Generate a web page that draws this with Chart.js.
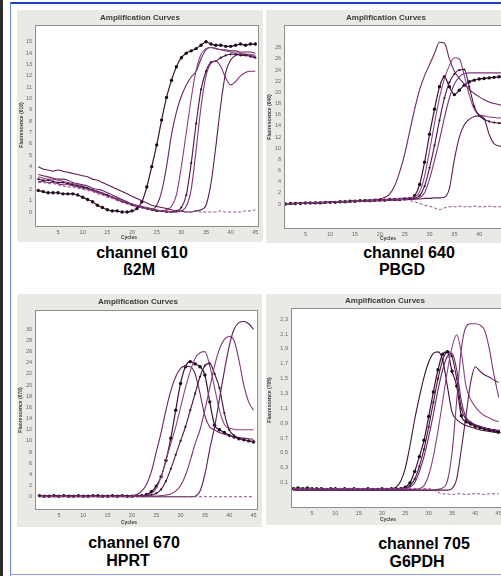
<!DOCTYPE html>
<html><head><meta charset="utf-8">
<script src="https://cdn.jsdelivr.net/npm/chart.js@4/dist/chart.umd.min.js"></script>
<style>
html,body{margin:0;padding:0;background:#fff;width:501px;height:576px;overflow:hidden;position:relative;font-family:"Liberation Sans",Arial,sans-serif}
.panel{position:absolute;background:#ebe9e5;overflow:hidden}
.panel canvas{display:block}
.cap{position:absolute;font-weight:bold;font-size:16px;color:#000;transform:translate(-50%,-50%);white-space:nowrap;line-height:1}
</style></head><body>
<div style="position:absolute;left:0;top:0;width:3px;height:576px;background:#2a2a2a"></div>
<div style="position:absolute;left:10px;top:2px;width:491px;height:2px;background:#1f3fcf"></div>
<div style="position:absolute;left:10px;top:2px;width:1px;height:574px;background:#6f88f0"></div>
<div style="position:absolute;left:10px;top:574px;width:491px;height:1px;background:#8fa0ef"></div>

<div class="panel" style="left:17px;top:10px;width:246px;height:232px"><canvas id="c610" width="246" height="232"></canvas></div>
<div class="panel" style="left:266px;top:10px;width:246px;height:233px"><canvas id="c640" width="246" height="233"></canvas></div>
<div class="panel" style="left:17px;top:294px;width:245px;height:233px"><canvas id="c670" width="245" height="233"></canvas></div>
<div class="panel" style="left:266px;top:294px;width:246px;height:231px"><canvas id="c705" width="246" height="231"></canvas></div>

<div class="cap" style="left:142px;top:253px">channel 610</div>
<div class="cap" style="left:139px;top:270px">ß2M</div>
<div class="cap" style="left:409px;top:253px">channel 640</div>
<div class="cap" style="left:402px;top:270px">PBGD</div>
<div class="cap" style="left:134px;top:543px">channel 670</div>
<div class="cap" style="left:128px;top:561px">HPRT</div>
<div class="cap" style="left:424px;top:544px">channel 705</div>
<div class="cap" style="left:417px;top:562px">G6PDH</div>

<script>
// ---------- DATA ----------
const cycles = [1,2,3,4,5,6,7,8,9,10,11,12,13,14,15,16,17,18,19,20,21,22,23,24,25,26,27,28,29,30,31,32,33,34,35,36,37,38,39,40,41,42,43,44,45];
const xTicks = [5,10,15,20,25,30,35,40,45];

// channel 610 (ß2M)
const ticks610 = [0,1,2,3,4,5,6,7,8,9,10,11,12,13,14,15];
const ch610_dots = [1.9,1.8,1.7,1.7,1.7,1.6,1.6,1.6,1.5,1.3,1.1,0.9,0.6,0.4,0.2,0.1,0.1,0.0,0.0,0.1,0.3,0.9,2.2,4.0,5.9,8.1,10.1,11.6,12.8,13.6,14.0,14.2,14.4,14.7,15.0,14.8,14.7,14.7,14.6,14.6,14.7,14.8,14.7,14.8,14.8];
const ch610_b = [3.3,3.2,3.1,3.0,2.9,2.9,2.8,2.6,2.5,2.4,2.3,2.1,2.0,1.9,1.7,1.5,1.3,1.1,0.9,0.7,0.5,0.4,0.3,0.2,0.6,1.8,4.0,6.8,8.8,10.2,11.2,11.9,12.4,13.5,14.3,14.5,14.4,14.3,14.3,14.2,14.2,14.1,14.1,14.1,14.0];
const ch610_c = [3.1,3.0,2.9,2.9,2.8,2.7,2.6,2.5,2.4,2.3,2.1,2.0,1.8,1.7,1.5,1.3,1.2,1.0,0.8,0.7,0.5,0.4,0.3,0.2,0.1,0.1,0.2,0.5,1.5,4.0,7.0,10.0,12.5,13.9,14.4,14.5,14.4,14.3,14.2,14.1,14.0,14.0,13.9,13.9,13.8];
const ch610_d = [2.9,2.8,2.8,2.7,2.6,2.6,2.5,2.4,2.3,2.2,2.1,1.9,1.8,1.6,1.5,1.3,1.1,0.9,0.8,0.6,0.5,0.4,0.3,0.2,0.1,0.1,0.0,0.0,0.1,0.4,1.5,4.3,7.8,10.8,12.4,13.2,13.3,13.6,13.8,13.9,13.9,13.8,13.8,13.7,13.6];
const ch610_e = [2.7,2.7,2.6,2.6,2.5,2.4,2.4,2.3,2.2,2.1,2.0,1.9,1.7,1.6,1.4,1.3,1.1,1.0,0.8,0.7,0.6,0.5,0.4,0.3,0.2,0.1,0.1,0.0,0.0,0.1,0.5,2.0,5.5,9.3,12.0,13.1,13.3,12.8,11.8,11.2,11.5,12.0,12.3,12.4,12.4];
const ch610_f = [4.0,3.8,3.7,3.6,3.7,3.6,3.5,3.4,3.3,3.2,3.1,2.9,2.8,2.6,2.4,2.2,2.0,1.8,1.6,1.4,1.2,1.0,0.8,0.6,0.5,0.4,0.3,0.2,0.1,0.1,0.0,0.0,0.1,0.2,0.6,2.5,5.8,9.5,12.3,13.4,13.8,13.9,13.9,13.8,13.7];
const ch610_neg = [2.6,2.6,2.5,2.5,2.4,2.3,2.2,2.2,2.1,2.0,1.9,1.8,1.6,1.5,1.3,1.2,1.0,0.9,0.7,0.6,0.5,0.4,0.3,0.2,0.2,0.1,0.1,0.0,0.0,0.1,0.0,0.0,0.1,0.0,0.0,0.0,0.0,0.1,0.0,0.0,0.0,0.0,0.1,0.1,0.2];

// channel 640 (PBGD)
const ticks640 = [0,2,4,6,8,10,12,14,16,18,20,22,24,26,28];
const ch640_dots = [0.0,0.1,0.1,0.1,0.2,0.2,0.2,0.2,0.3,0.3,0.3,0.4,0.4,0.5,0.5,0.6,0.6,0.6,0.7,0.7,0.7,0.8,0.8,0.8,0.9,1.0,1.5,3.5,7.5,12.5,17.0,21.0,22.8,21.0,19.6,20.4,21.3,21.9,22.2,22.4,22.5,22.6,22.7,22.8,22.9];
const ch640_p = [0.0,0.1,0.1,0.2,0.2,0.2,0.3,0.3,0.3,0.4,0.4,0.5,0.5,0.5,0.6,0.6,0.7,0.7,0.8,0.9,1.2,1.8,3.3,5.8,9.0,13.0,17.0,20.5,23.0,25.0,27.0,29.0,28.8,26.0,23.8,22.5,21.5,20.5,19.8,19.2,18.7,18.3,18.0,17.8,17.6];
const ch640_q = [0.0,0.1,0.1,0.1,0.2,0.2,0.2,0.3,0.3,0.3,0.4,0.4,0.5,0.5,0.5,0.6,0.6,0.7,0.7,0.8,0.8,0.9,0.9,1.0,1.0,1.1,1.3,2.2,5.0,9.5,14.5,19.0,22.5,24.8,26.2,26.0,23.0,19.5,17.0,16.0,15.8,15.6,15.5,15.4,15.4];
const ch640_r = [0.0,0.0,0.1,0.1,0.1,0.2,0.2,0.2,0.3,0.3,0.3,0.4,0.4,0.4,0.5,0.5,0.6,0.6,0.6,0.7,0.7,0.8,0.8,0.8,0.9,0.9,1.0,1.5,3.2,6.5,10.5,15.0,19.0,21.8,23.3,24.0,24.1,21.0,17.5,15.8,15.2,14.8,14.6,14.5,14.4];
const ch640_s = [0.0,0.0,0.1,0.1,0.1,0.2,0.2,0.2,0.3,0.3,0.3,0.4,0.4,0.4,0.5,0.5,0.5,0.6,0.6,0.6,0.7,0.7,0.8,0.8,0.8,0.9,0.9,1.1,2.0,4.5,7.8,11.5,15.5,19.0,21.5,22.8,23.4,23.5,23.5,23.5,23.5,23.5,23.5,23.5,23.5];
const ch640_t = [0.0,0.0,0.1,0.1,0.1,0.1,0.2,0.2,0.2,0.3,0.3,0.3,0.4,0.4,0.4,0.5,0.5,0.5,0.6,0.6,0.6,0.7,0.7,0.7,0.8,0.8,0.9,0.9,1.0,1.0,1.1,1.1,1.2,2.8,8.0,12.0,14.2,15.2,15.7,15.8,15.3,12.5,10.8,10.4,10.3];
const ch640_neg = [0.0,0.0,0.1,0.1,0.1,0.2,0.2,0.2,0.3,0.3,0.3,0.4,0.4,0.4,0.5,0.5,0.5,0.6,0.6,0.6,0.7,0.7,0.7,0.8,0.8,0.6,0.4,0.1,-0.2,-0.4,-0.7,-1.0,-0.7,-0.5,-0.5,-0.4,-0.5,-0.5,-0.4,-0.5,-0.5,-0.4,-0.5,-0.5,-0.5];

// channel 670 (HPRT)
const ticks670 = [0,2,4,6,8,10,12,14,16,18,20,22,24,26,28,30];
const ch670_dots = [0.2,0.1,0.1,0.2,0.1,0.2,0.1,0.1,0.2,0.1,0.1,0.2,0.2,0.1,0.1,0.2,0.1,0.2,0.1,0.1,0.2,0.2,0.4,0.9,1.9,3.6,6.5,10.5,15.5,20.3,23.3,24.2,23.8,23.3,21.8,17.0,12.8,12.0,11.5,11.0,10.7,10.4,10.2,10.0,9.8];
const ch670_a = [0.1,0.1,0.2,0.1,0.1,0.1,0.2,0.1,0.1,0.2,0.1,0.1,0.2,0.1,0.2,0.1,0.1,0.2,0.2,0.2,0.4,1.0,2.2,4.5,8.0,11.5,15.5,19.0,21.5,23.0,23.4,23.3,22.0,18.5,14.5,12.5,12.0,11.5,11.2,11.0,10.8,10.6,10.5,10.4,10.3];
const ch670_b = [0.1,0.1,0.1,0.1,0.2,0.1,0.1,0.1,0.2,0.1,0.1,0.1,0.2,0.1,0.1,0.1,0.2,0.1,0.1,0.2,0.2,0.2,0.3,0.6,1.5,3.5,6.5,9.5,12.5,16.0,19.5,22.5,24.8,25.8,26.0,23.5,19.5,15.5,13.0,12.3,12.1,12.0,12.0,12.0,12.0];
const ch670_c = [0.1,0.1,0.1,0.1,0.1,0.1,0.1,0.1,0.1,0.1,0.1,0.1,0.1,0.1,0.1,0.1,0.1,0.1,0.1,0.1,0.1,0.2,0.2,0.3,0.6,1.3,2.8,5.0,7.5,10.0,12.5,15.5,18.5,21.5,23.5,23.9,22.0,19.5,15.0,12.0,11.0,10.5,10.2,10.0,9.9];
const ch670_d = [0.0,0.1,0.0,0.1,0.0,0.1,0.0,0.1,0.0,0.1,0.0,0.1,0.0,0.1,0.0,0.1,0.0,0.1,0.0,0.1,0.1,0.1,0.1,0.1,0.1,0.2,0.3,0.5,1.0,2.0,3.8,6.5,9.5,12.0,15.5,19.5,23.5,26.5,28.2,28.7,28.0,24.5,20.0,17.0,15.5];
const ch670_e = [0.0,0.0,0.0,0.0,0.0,0.0,0.0,0.0,0.0,0.0,0.0,0.0,0.0,0.0,0.0,0.0,0.0,0.0,0.0,0.0,0.0,0.0,0.0,0.0,0.0,0.0,0.0,0.0,0.0,0.0,0.0,0.0,0.1,1.0,4.0,8.5,12.5,17.5,22.5,27.0,30.0,31.2,31.4,31.0,30.0];
const ch670_neg = [0.1,0.0,0.1,0.0,0.0,0.1,0.0,0.0,0.1,0.0,0.0,0.1,0.0,0.0,0.1,0.0,0.0,0.1,0.0,0.0,0.1,0.0,0.0,0.1,0.0,0.0,0.0,0.0,0.0,0.0,0.0,0.0,0.0,0.0,0.0,0.0,0.0,0.0,0.0,0.0,0.0,0.0,0.0,0.0,0.0];

// channel 705 (G6PDH)
const ticks705 = [0.1,0.3,0.5,0.7,0.9,1.1,1.3,1.5,1.7,1.9,2.1,2.3];
const ch705_dots = [0.02,0.03,0.02,0.03,0.02,0.02,0.02,0.01,0.02,0.02,0.01,0.02,0.01,0.02,0.01,0.01,0.02,0.01,0.01,0.02,0.01,0.02,0.02,0.02,0.04,0.10,0.25,0.45,0.67,0.99,1.32,1.62,1.83,1.86,1.60,1.40,1.00,0.92,0.89,0.86,0.84,0.82,0.81,0.80,0.78];
const ch705_a = [0.01,0.02,0.02,0.02,0.01,0.02,0.01,0.02,0.01,0.01,0.01,0.01,0.02,0.01,0.01,0.01,0.01,0.02,0.01,0.01,0.02,0.02,0.04,0.12,0.30,0.60,0.95,1.25,1.52,1.72,1.84,1.86,1.75,1.40,1.05,0.95,0.90,0.87,0.85,0.83,0.81,0.80,0.79,0.78,0.77];
const ch705_b = [0.02,0.02,0.02,0.02,0.02,0.01,0.02,0.01,0.01,0.01,0.01,0.01,0.01,0.01,0.01,0.01,0.01,0.01,0.01,0.01,0.01,0.01,0.01,0.02,0.03,0.06,0.15,0.32,0.55,0.85,1.18,1.50,1.75,1.87,1.80,1.50,1.10,0.95,0.90,0.87,0.85,0.83,0.82,0.81,0.80];
const ch705_c = [0.01,0.01,0.01,0.01,0.01,0.01,0.01,0.01,0.01,0.01,0.01,0.01,0.01,0.01,0.01,0.01,0.01,0.01,0.01,0.01,0.01,0.01,0.01,0.01,0.02,0.04,0.10,0.25,0.45,0.72,1.02,1.35,1.62,1.80,1.84,1.62,1.20,0.98,0.92,0.88,0.86,0.84,0.82,0.81,0.80];
const ch705_d = [0.01,0.01,0.01,0.01,0.01,0.01,0.01,0.01,0.01,0.01,0.01,0.01,0.01,0.01,0.01,0.01,0.01,0.01,0.01,0.01,0.01,0.01,0.01,0.01,0.01,0.01,0.01,0.02,0.06,0.20,0.45,0.80,1.20,1.60,1.92,2.09,1.85,1.40,1.22,1.12,1.05,1.00,0.97,0.94,0.92];
const ch705_e = [0.00,0.00,0.00,0.00,0.00,0.00,0.00,0.00,0.00,0.00,0.00,0.00,0.00,0.00,0.00,0.00,0.00,0.00,0.00,0.00,0.00,0.00,0.00,0.00,0.00,0.00,0.00,0.00,0.00,0.00,0.00,0.01,0.03,0.12,0.50,1.20,1.90,2.20,2.24,2.24,2.22,2.15,1.90,1.55,1.25];
const ch705_f = [0.00,0.00,0.00,0.00,0.00,0.00,0.00,0.00,0.00,0.00,0.00,0.00,0.00,0.00,0.00,0.00,0.00,0.00,0.00,0.00,0.00,0.00,0.00,0.00,0.00,0.00,0.00,0.00,0.00,0.00,0.00,0.00,0.00,0.00,0.02,0.15,0.55,1.00,1.45,1.66,1.60,1.55,1.52,1.48,1.45];
const ch705_neg = [0.02,0.02,0.02,0.02,0.02,0.02,0.02,0.02,0.02,0.02,0.02,0.02,0.02,0.02,0.02,0.02,0.02,0.02,0.02,0.02,0.02,0.02,0.02,0.02,0.02,0.02,0.02,0.02,0.02,0.02,0.00,-0.03,-0.05,-0.05,-0.06,-0.05,-0.05,-0.06,-0.05,-0.05,-0.05,-0.06,-0.05,-0.05,-0.05];

// ---------- DRAWING ----------
Chart.defaults.font.family = '"Liberation Sans", Arial, sans-serif';

const panelDeco = {
  id: 'panelDeco',
  beforeDatasetsDraw(chart, args, o) {
    const a = chart.chartArea, ctx = chart.ctx;
    ctx.save();
    ctx.fillStyle = '#ffffff';
    ctx.fillRect(a.left, a.top, a.right - a.left, a.bottom - a.top);
    ctx.restore();
  },
  afterDatasetsDraw(chart, args, o) {
    const a = chart.chartArea, ctx = chart.ctx;
    ctx.save();
    ctx.strokeStyle = '#8e8e8e'; ctx.lineWidth = 1;
    ctx.strokeRect(Math.round(a.left) + 0.5, Math.round(a.top) + 0.5, Math.round(a.right - a.left) - 1, Math.round(a.bottom - a.top) - 1);
    ctx.fillStyle = '#3b3b3b'; ctx.textAlign = 'center'; ctx.textBaseline = 'middle';
    ctx.font = 'bold 8px "Liberation Sans", Arial, sans-serif';
    ctx.fillText('Amplification Curves', o.titleX, o.titleY);
    ctx.font = 'bold 5px "Liberation Sans", Arial, sans-serif';
    ctx.fillText('Cycles', o.cycX, o.cycY);
    ctx.translate(o.ytX, o.ytY); ctx.rotate(-Math.PI / 2);
    ctx.fillText(o.yTitle, 0, 0);
    ctx.restore();
  }
};

const COLS = ['#5a1c52', '#7e3576', '#4a1545', '#8a4382', '#6a2462', '#3d1238'];

function series(vals, kind, col) {
  const d = {
    data: cycles.map((c, i) => ({x: c, y: vals[i]})),
    borderColor: col, borderWidth: 1.1, fill: false,
    cubicInterpolationMode: 'monotone', pointRadius: 0
  };
  if (kind === 'dots') {
    d.pointRadius = 1.7; d.pointBackgroundColor = '#1c0a1a'; d.pointBorderColor = '#1c0a1a';
    d.pointBorderWidth = 0; d.borderColor = '#3a1236'; d.borderWidth = 1.2;
  } else if (kind === 'marks') {
    d.pointRadius = 1.1; d.pointBackgroundColor = '#3a1236'; d.pointBorderColor = '#3a1236'; d.pointBorderWidth = 0;
  } else if (kind === 'neg') {
    d.borderDash = [3, 2]; d.borderColor = '#8d4d86'; d.borderWidth = 1;
  }
  return d;
}

function makePanel(id, P) {
  new Chart(document.getElementById(id), {
    type: 'line',
    data: {datasets: P.sets},
    options: {
      responsive: false, animation: false, devicePixelRatio: 1,
      layout: {padding: {top: P.top, right: P.right, left: 0, bottom: 0}},
      plugins: {legend: {display: false}, tooltip: {enabled: false}, title: {display: false}, panelDeco: P.deco},
      scales: {
        x: {
          type: 'linear', min: P.xmin, max: P.xmax,
          grid: {display: false, drawTicks: false}, border: {display: false},
          ticks: {font: {size: 5.5}, color: '#666', padding: 2, autoSkip: false, maxRotation: 0},
          afterBuildTicks: s => { s.ticks = xTicks.map(v => ({value: v})); },
          afterFit: s => { s.height = P.xh; }
        },
        y: {
          type: 'linear', min: P.ymin, max: P.ymax,
          grid: {display: false, drawTicks: false}, border: {display: false},
          ticks: {font: {size: 5.5}, color: '#666', padding: 3, autoSkip: false, callback: P.fmt},
          afterBuildTicks: s => { s.ticks = P.yticks.map(v => ({value: v})); },
          afterFit: s => { s.width = P.yw; }
        }
      }
    },
    plugins: [panelDeco]
  });
}

makePanel('c610', {
  top: 15, right: 1, yw: 18, xh: 15, xmin: 0.34, xmax: 45.74, ymin: -1.32, ymax: 16.48,
  yticks: ticks610, fmt: v => String(v),
  deco: {titleX: 123, titleY: 8, cycX: 112, cycY: 228, ytX: 5, ytY: 115, yTitle: 'Fluorescence (610)'},
  sets: [
    series(ch610_neg, 'neg'),
    series(ch610_f, 'line', COLS[0]), series(ch610_e, 'line', COLS[1]),
    series(ch610_d, 'marks', COLS[2]), series(ch610_c, 'line', COLS[3]),
    series(ch610_b, 'line', COLS[4]), series(ch610_dots, 'dots')
  ]
});
makePanel('c640', {
  top: 15, right: 1, yw: 18, xh: 14, xmin: 0.68, xmax: 45.8, ymin: -4.48, ymax: 32.08,
  yticks: ticks640, fmt: v => String(v),
  deco: {titleX: 120, titleY: 8, cycX: 122, cycY: 229, ytX: 4, ytY: 107, yTitle: 'Fluorescence (640)'},
  sets: [
    series(ch640_neg, 'neg'),
    series(ch640_t, 'line', COLS[0]), series(ch640_s, 'line', COLS[1]),
    series(ch640_r, 'marks', COLS[2]), series(ch640_q, 'line', COLS[3]),
    series(ch640_p, 'line', COLS[4]), series(ch640_dots, 'dots')
  ]
});
makePanel('c670', {
  top: 16, right: 1, yw: 18, xh: 17, xmin: 0.08, xmax: 45.92, ymin: -2.38, ymax: 33.46,
  yticks: ticks670, fmt: v => String(v),
  deco: {titleX: 121, titleY: 8, cycX: 112, cycY: 229, ytX: 4, ytY: 116, yTitle: 'Fluorescence (670)'},
  sets: [
    series(ch670_neg, 'neg'),
    series(ch670_e, 'line', COLS[0]), series(ch670_d, 'line', COLS[1]),
    series(ch670_c, 'marks', COLS[2]), series(ch670_b, 'line', COLS[3]),
    series(ch670_a, 'line', COLS[4]), series(ch670_dots, 'dots')
  ]
});
makePanel('c705', {
  top: 14, right: 1, yw: 25, xh: 17, xmin: 0.49, xmax: 47.0, ymin: -0.241, ymax: 2.451,
  yticks: ticks705, fmt: v => v.toFixed(1).replace('.', ','),
  deco: {titleX: 119, titleY: 7, cycX: 122, cycY: 226, ytX: 4, ytY: 106, yTitle: 'Fluorescence (705)'},
  sets: [
    series(ch705_neg, 'neg'),
    series(ch705_f, 'line', COLS[0]), series(ch705_e, 'line', COLS[1]),
    series(ch705_d, 'line', COLS[3]), series(ch705_c, 'line', COLS[4]),
    series(ch705_b, 'marks', COLS[2]), series(ch705_a, 'line', COLS[5]),
    series(ch705_dots, 'dots')
  ]
});
</script>
</body></html>
